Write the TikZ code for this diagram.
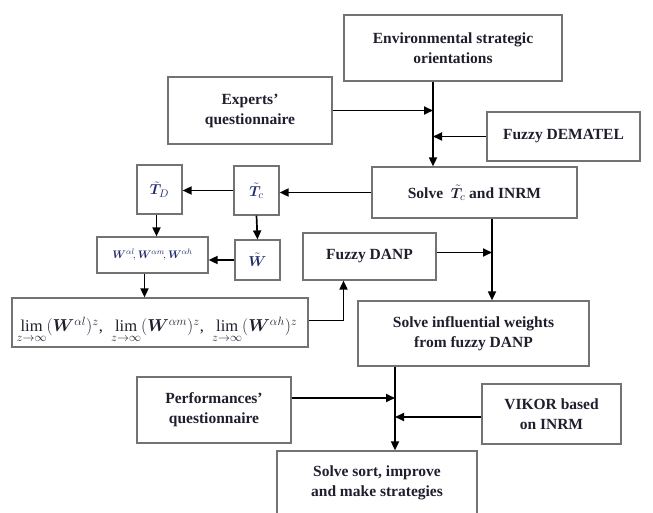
\documentclass[tikz,border=0pt]{standalone}
\usepackage{amsmath,amssymb,bm}
\usepackage{fontspec}
\setmainfont{Liberation Serif}
\usetikzlibrary{arrows.meta,positioning,calc}
\definecolor{ink}{RGB}{30,30,45}
\definecolor{mathink}{RGB}{35,45,110}
\begin{document}
\begin{tikzpicture}[x=1pt, y=-1pt, >={Triangle[length=9pt,width=8pt]},
  every node/.style={font=\fontsize{15.5}{20}\selectfont\bfseries, text=ink},
  box/.style={draw=black!55, line width=1.2pt, align=center, inner sep=0pt},
  link/.style={->, line width=1.7pt}]
  \useasboundingbox (0,0) rectangle (653,513);
  \node[box, minimum width=218pt, minimum height=66pt] (env) at (453,48) {Environmental strategic\\orientations};
  \node[box, minimum width=164pt, minimum height=67pt] (experts) at (250,110.5) {Experts’\\questionnaire};
  \node[box, minimum width=153pt, minimum height=49pt] (dematel) at (563.5,136.5) {Fuzzy DEMATEL};
  \node[box, minimum width=205pt, minimum height=51pt] (solvetc) at (474.5,192.5) {Solve\ \ $\tilde{\bm{T}}_{c}$ and INRM};
  \node[box, minimum width=45pt, minimum height=49pt, text=mathink] (tc) at (256.5,190.5) {$\tilde{\bm{T}}_{c}$};
  \node[box, minimum width=45pt, minimum height=49pt, text=mathink] (td) at (159.5,189.5) {$\tilde{\bm{T}}_{D}$};
  \node[box, minimum width=45pt, minimum height=40pt, text=mathink] (wt) at (257.5,260) {$\tilde{\bm{W}}$};
  \node[box, minimum width=111pt, minimum height=36pt, text=mathink, font=\fontsize{11}{13}\selectfont] (wbox) at (152.5,255) {$\bm{W}^{\alpha l}\!,\bm{W}^{\alpha m}\!,\bm{W}^{\alpha h}$};
  \node[box, minimum width=296pt, minimum height=49pt] (lim) at (160,322.5) {};
  \node[font=\fontsize{16.5}{20}\selectfont, text=ink, inner sep=0pt] (limtext) at (157,330) {$\lim\limits_{z\to\infty}(\bm{W}^{\alpha l})^{z}$,\ \ $\lim\limits_{z\to\infty}(\bm{W}^{\alpha m})^{z}$,\ \ $\lim\limits_{z\to\infty}(\bm{W}^{\alpha h})^{z}$};
  \node[box, minimum width=133pt, minimum height=47pt] (danp) at (369.5,256.5) {Fuzzy DANP};
  \node[box, minimum width=231pt, minimum height=65pt] (infl) at (473.5,333.5) {Solve influential weights\\from fuzzy DANP};
  \node[box, minimum width=154pt, minimum height=66pt] (perf) at (214,410) {Performances’\\questionnaire};
  \node[box, minimum width=139pt, minimum height=60pt] (vikor) at (551.5,414) {VIKOR based\\on INRM};
  \node[box, minimum width=200pt, minimum height=64pt] (final) at (377,483) {Solve sort, improve\\and make strategies};
  \coordinate (spine) at (433,0);
  \coordinate (spinetwo) at (492,0);
  \coordinate (spinethree) at (395,0);
  \coordinate (tdfoot) at ([xshift=-3pt]td.south);
  \coordinate (wfoot) at ([xshift=-8pt]wbox.south);
  \coordinate (limout) at ([yshift=2pt]lim.east);
  \coordinate (danpin) at ([xshift=-26pt]danp.south);
  \coordinate (danpout) at ([yshift=4pt]danp.east);
  \coordinate (perfout) at ([yshift=12pt]perf.east);
  \coordinate (vikorout) at ([yshift=-3pt]vikor.west);
  \draw[link] (env.south -| spine) -- (solvetc.north -| spine);
  \draw[link] (experts.east) -- (experts.east -| spine);
  \draw[link] (dematel.west) -- (dematel.west -| spine);
  \draw[link] (solvetc.west) -- (solvetc.west -| tc.east);
  \draw[link] (tc.west) -- (tc.west -| td.east);
  \draw[link] (tc.south) -- (wt.north);
  \draw[link] (wt.west) -- (wt.west -| wbox.east);
  \draw[link] (tdfoot) -- (wbox.north -| tdfoot);
  \draw[link] (wfoot) -- (lim.north -| wfoot);
  \draw[link] (limout) -| (danpin);
  \draw[link] (solvetc.south -| spinetwo) -- (infl.north -| spinetwo);
  \draw[link] (danpout) -- (danpout -| spinetwo);
  \draw[link] (infl.south -| spinethree) -- (final.north -| spinethree);
  \draw[link] (perfout) -- (perfout -| spinethree);
  \draw[link] (vikorout) -- (vikorout -| spinethree);
\end{tikzpicture}
\end{document}
